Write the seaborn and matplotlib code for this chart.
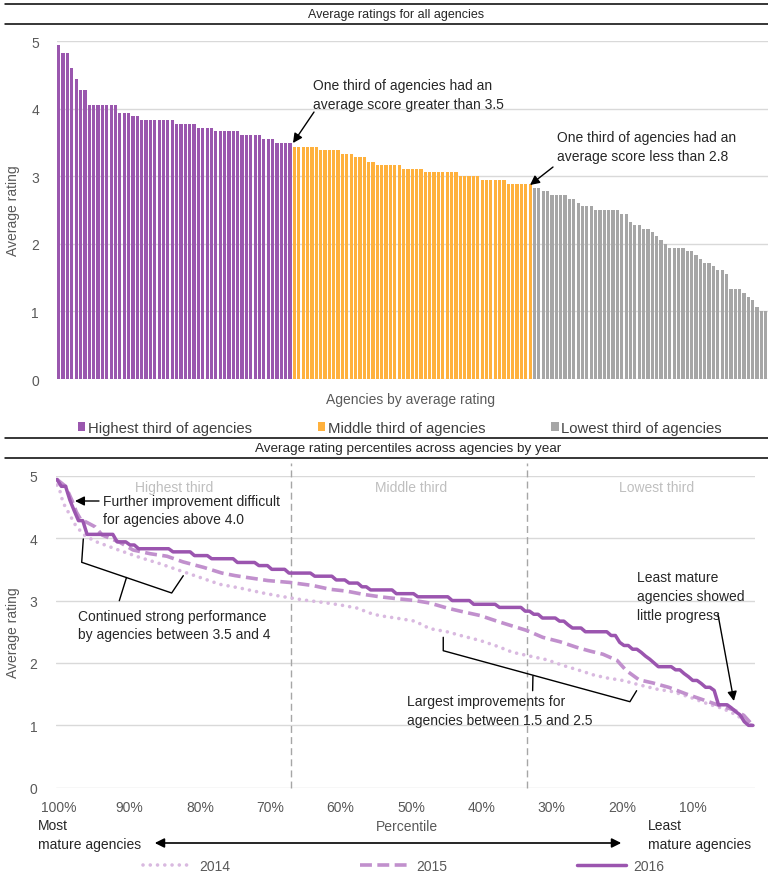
import numpy as np
import pandas as pd
import matplotlib
matplotlib.use("Agg")
import matplotlib.pyplot as plt
import seaborn as sns
from matplotlib.lines import Line2D
from matplotlib.patches import Patch

# ---------------- data ----------------
group_names = ["Highest third of agencies", "Middle third of agencies", "Lowest third of agencies"]

highest_third = [4.94, 4.83, 4.83, 4.61, 4.44, 4.28, 4.28,
                 4.06, 4.06, 4.06, 4.06, 4.06, 4.06, 4.06,
                 3.94, 3.94, 3.94, 3.89, 3.89,
                 3.83, 3.83, 3.83, 3.83, 3.83, 3.83, 3.83, 3.83,
                 3.78, 3.78, 3.78, 3.78, 3.78,
                 3.72, 3.72, 3.72, 3.72,
                 3.67, 3.67, 3.67, 3.67, 3.67, 3.67,
                 3.61, 3.61, 3.61, 3.61, 3.61,
                 3.56, 3.56, 3.56,
                 3.50, 3.50, 3.50, 3.50]
middle_third = [3.44, 3.44, 3.44, 3.44, 3.44, 3.44,
                3.39, 3.39, 3.39, 3.39, 3.39,
                3.33, 3.33, 3.33,
                3.28, 3.28, 3.28,
                3.22, 3.22,
                3.17, 3.17, 3.17, 3.17, 3.17, 3.17,
                3.11, 3.11, 3.11, 3.11, 3.11,
                3.06, 3.06, 3.06, 3.06, 3.06, 3.06, 3.06, 3.06,
                3.00, 3.00, 3.00, 3.00, 3.00,
                2.94, 2.94, 2.94, 2.94, 2.94, 2.94,
                2.89, 2.89, 2.89, 2.89, 2.89, 2.89]
lowest_third = [2.83, 2.83, 2.78, 2.78, 2.72, 2.72, 2.72, 2.72,
                2.67, 2.67, 2.61, 2.56, 2.56, 2.56,
                2.50, 2.50, 2.50, 2.50, 2.50, 2.50,
                2.44, 2.44, 2.33, 2.28, 2.28, 2.22, 2.22,
                2.17, 2.11, 2.06, 2.00,
                1.94, 1.94, 1.94, 1.94, 1.89, 1.89, 1.83, 1.78,
                1.72, 1.72, 1.67, 1.61, 1.61, 1.56,
                1.33, 1.33, 1.33, 1.28, 1.22, 1.17, 1.06, 1.00, 1.00]

# 2016 percentile line uses the same ranked ratings as the bars
rank_2015 = [0, 2.0, 3.5, 4.5, 5.5, 7.0, 8.9, 10.5, 14.7, 17.7, 21.7, 25.6, 29.3, 34.2,
             38.4, 41.4, 44.2, 49.1, 54.2, 59.6, 63.6, 67.5, 71.2, 75.2, 79.1, 83.3,
             86.8, 90.8, 94.5, 98.5, 102.4, 106.1, 109.4, 113.1, 117.1, 121.0, 124.1,
             127.1, 130.4, 132.5, 135.5, 138.7, 142.4, 146.6, 150.4, 154.6, 157.5,
             159.9, 162.0]
rating_2015 = [4.94, 4.83, 4.60, 4.42, 4.30, 4.25, 4.18, 4.05, 3.93, 3.81, 3.75, 3.71,
               3.62, 3.53, 3.44, 3.40, 3.37, 3.32, 3.29, 3.24, 3.18, 3.15, 3.10, 3.06,
               3.03, 3.00, 2.96, 2.88, 2.82, 2.76, 2.67, 2.59, 2.52, 2.41, 2.34, 2.25,
               2.19, 2.14, 2.04, 1.88, 1.73, 1.68, 1.61, 1.50, 1.41, 1.31, 1.25, 1.16,
               1.00]
rank_2014 = [0, 0.7, 1.4, 2.6, 4.2, 6.1, 8.8, 14.7, 19.3, 24.0, 28.6, 33.3, 37.9, 42.6,
             48.0, 51.9, 57.3, 61.9, 65.9, 69.8, 73.6, 75.9, 79.8, 83.3, 86.8, 90.8,
             94.5, 98.5, 102.4, 106.1, 110.1, 114.1, 117.8, 121.7, 124.8, 128.0, 131.7,
             135.5, 139.7, 143.4, 147.4, 151.3, 155.0, 158.4, 160.8, 162.0]
rating_2014 = [4.85, 4.75, 4.57, 4.42, 4.22, 4.06, 3.95, 3.80, 3.69, 3.59, 3.48, 3.37,
               3.26, 3.20, 3.12, 3.07, 3.01, 2.97, 2.93, 2.88, 2.78, 2.75, 2.71, 2.67,
               2.55, 2.50, 2.43, 2.36, 2.27, 2.17, 2.11, 2.05, 1.96, 1.88, 1.81, 1.76,
               1.72, 1.65, 1.58, 1.54, 1.45, 1.35, 1.27, 1.16, 1.02, 1.00]

percentile_labels = ["100%", "90%", "80%", "70%", "60%", "50%", "40%", "30%", "20%", "10%"]
third_labels = ["Highest third", "Middle third", "Lowest third"]
year_labels = ["2014", "2015", "2016"]

# ---------------- style ----------------
sns.set_theme(style="white")
plt.rcParams["font.family"] = ["Liberation Sans", "DejaVu Sans"]

PURPLE = "#9A57AE"
ORANGE = "#FFB13D"
GREY = "#A6A6A6"
C2016 = "#9B55AF"
C2015 = "#C190CD"
C2014 = "#D9B9E0"
TXT = "#595959"
GRID = "#D9D9D9"

W, H = 768, 879
fig = plt.figure(figsize=(W / 100, H / 100), dpi=100)
fig.patch.set_facecolor("white")


def fx(px):
    return px / W


def fy(py):
    return 1 - py / H


# ---------------- top chart ----------------
ratings = highest_third + middle_third + lowest_third
groups = ([group_names[0]] * len(highest_third) + [group_names[1]] * len(middle_third)
          + [group_names[2]] * len(lowest_third))
n = len(ratings)
df = pd.DataFrame({"rank": np.arange(n), "rating": ratings, "group": groups})

ax1 = fig.add_axes([fx(57), fy(380), (768 - 57) / W, (380 - 42.3) / H])
sns.barplot(data=df, x="rank", y="rating", hue="group", hue_order=group_names,
            palette=[PURPLE, ORANGE, GREY], dodge=False, width=0.74, saturation=1,
            legend=False, ax=ax1, linewidth=0, edgecolor="none")
ax1.set_xlim(-0.4, n - 0.5)
ax1.set_ylim(0, 5)
ax1.set_yticks([0, 1, 2, 3, 4, 5])
ax1.set_xticks([])
ax1.set_xlabel("")
ax1.yaxis.grid(True, color=GRID, linewidth=1)
ax1.set_axisbelow(True)
for s in ax1.spines.values():
    s.set_visible(False)
ax1.tick_params(axis="y", length=0, pad=13, labelsize=10, labelcolor=TXT)
ax1.set_ylabel("Average rating", fontsize=10, color=TXT)
ax1.yaxis.set_label_coords((20 - 57) / 711, 0.5)


def t1(px, py):
    # pixel -> data coords of top axes
    return (-0.4 + (px - 57) / ((768 - 57) / (n + 0.1 - 0.2)), (380 - py) / 67.55)


ax1.text(*t1(313, 95), "One third of agencies had an\naverage score greater than 3.5",
         fontsize=10, ha="left", va="center", linespacing=1.45)
ax1.annotate("", xy=t1(293, 144), xytext=t1(314, 113),
             arrowprops=dict(arrowstyle="-|>", color="black", lw=1, mutation_scale=14,
                             shrinkA=0, shrinkB=0))
ax1.text(*t1(557, 147), "One third of agencies had an\naverage score less than 2.8",
         fontsize=10, ha="left", va="center", linespacing=1.45)
ax1.annotate("", xy=t1(530, 186), xytext=t1(553, 168),
             arrowprops=dict(arrowstyle="-|>", color="black", lw=1, mutation_scale=14,
                             shrinkA=0, shrinkB=0))

fig.text(fx(410), fy(400), "Agencies by average rating", fontsize=10, color=TXT,
         ha="center", va="center")
handles = [Patch(facecolor=c, edgecolor="none") for c in (PURPLE, ORANGE, GREY)]
fig.legend(handles, group_names, loc="center left", bbox_to_anchor=(fx(78), fy(429)),
           ncol=3, frameon=False, fontsize=10.7, handlelength=0.5, handleheight=0.5,
           handletextpad=0.2, columnspacing=4.4, borderaxespad=0, borderpad=0,
           labelcolor="#404040")

# ---------------- title bands ----------------
for py in (5, 25, 439, 459):
    fig.add_artist(Line2D([fx(5), 1], [fy(py), fy(py)], color="black", lw=1.1))
fig.text(fx(396), fy(15), "Average ratings for all agencies", fontsize=9, ha="center", va="center")
fig.text(fx(408), fy(449), "Average rating percentiles across agencies by year", fontsize=9.7,
         ha="center", va="center")

# ---------------- bottom chart ----------------
ax2 = fig.add_axes([fx(55.5), fy(788.8), (755 - 55.5) / W, (788.8 - 476.7) / H])
sns.lineplot(x=rank_2014, y=rating_2014, ax=ax2, color=C2014, lw=2.6,
             linestyle=(0, (0.01, 2.0)), dash_capstyle="round", sort=False)
sns.lineplot(x=rank_2015, y=rating_2015, ax=ax2, color=C2015, lw=2.6,
             linestyle=(0, (3.3, 1.5)), dash_capstyle="butt", sort=False)
sns.lineplot(x=np.arange(n), y=ratings, ax=ax2, color=C2016, lw=2.5,
             solid_joinstyle="round", sort=False)
ax2.set_xlim(-0.35, n - 0.5)
ax2.set_ylim(0, 5)
ax2.set_yticks([0, 1, 2, 3, 4, 5])
pct_vals = [100, 90, 80, 70, 60, 50, 40, 30, 20, 10]
ax2.set_xticks([0.47 + (100 - p) * 1.639 for p in pct_vals])
ax2.set_xticklabels(percentile_labels)
ax2.yaxis.grid(True, color=GRID, linewidth=1)
ax2.set_axisbelow(True)
for s in ax2.spines.values():
    s.set_visible(False)
ax2.tick_params(axis="y", length=0, pad=13, labelsize=10, labelcolor=TXT)
ax2.tick_params(axis="x", length=0, pad=9, labelsize=10, labelcolor=TXT)
ax2.set_ylabel("Average rating", fontsize=10, color=TXT)
ax2.yaxis.set_label_coords((20 - 55.5) / 699.5, 0.5)
ax2.set_xlabel("")

for xd in (54.5, 109.5):
    ax2.plot([xd, xd], [0, 5.2], color="#A6A6A6", lw=1, ls=(0, (5, 3)), clip_on=False, zorder=1)


def t2(px, py):
    return ((px - 57) / 4.296, (788.8 - py) / 62.42)


for lab, px in zip(third_labels, (174, 411, 657)):
    ax2.text(*t2(px, 488), lab, fontsize=10, color="#BFBFBF", ha="center", va="center")

ax2.text(*t2(103, 511), "Further improvement difficult\nfor agencies above 4.0", fontsize=10,
         ha="left", va="center", linespacing=1.45)
ax2.annotate("", xy=t2(75, 502), xytext=t2(99, 502),
             arrowprops=dict(arrowstyle="-|>", color="black", lw=1, mutation_scale=14,
                             shrinkA=0, shrinkB=0))
ax2.text(*t2(78, 626), "Continued strong performance\nby agencies between 3.5 and 4",
         fontsize=10, ha="left", va="center", linespacing=1.45)
br1 = [t2(83.3, 540), t2(81.7, 563.3), t2(171.7, 594), t2(183.3, 576.7)]
ax2.plot([p[0] for p in br1], [p[1] for p in br1], color="black", lw=1)
tk1 = [t2(126.5, 578.5), t2(119.3, 601.7)]
ax2.plot([p[0] for p in tk1], [p[1] for p in tk1], color="black", lw=1)

ax2.text(*t2(407, 711.5), "Largest improvements for\nagencies between 1.5 and 2.5",
         fontsize=10, ha="left", va="center", linespacing=1.45)
br2 = [t2(443.3, 638.3), t2(443.3, 651.7), t2(630, 702.7), t2(636.7, 691.7)]
ax2.plot([p[0] for p in br2], [p[1] for p in br2], color="black", lw=1)
tk2 = [t2(533, 677), t2(532.7, 691.7)]
ax2.plot([p[0] for p in tk2], [p[1] for p in tk2], color="black", lw=1)

ax2.text(*t2(637, 597), "Least mature\nagencies showed\nlittle progress", fontsize=10,
         ha="left", va="center", linespacing=1.45)
ax2.annotate("", xy=t2(734, 702), xytext=t2(718, 615),
             arrowprops=dict(arrowstyle="-|>", color="black", lw=1, mutation_scale=14,
                             shrinkA=0, shrinkB=0))

# axis captions under the bottom chart
fig.text(fx(407), fy(827), "Percentile", fontsize=10, color=TXT, ha="center", va="center")
fig.text(fx(38), fy(835.5), "Most\nmature agencies", fontsize=10, ha="left", va="center",
         linespacing=1.45)
fig.text(fx(648), fy(835.5), "Least\nmature agencies", fontsize=10, ha="left", va="center",
         linespacing=1.45)
fig.add_artist(matplotlib.patches.FancyArrowPatch((fx(152), fy(844)), (fx(624), fy(844)),
                                                  transform=fig.transFigure,
                                                  arrowstyle="<|-|>", mutation_scale=14,
                                                  color="black", lw=1.2))

year_handles = [Line2D([], [], color=C2014, lw=2.6, linestyle=(0, (0.01, 2.0)),
                       dash_capstyle="round"),
                Line2D([], [], color=C2015, lw=2.6, linestyle=(0, (3.3, 1.5))),
                Line2D([], [], color=C2016, lw=2.5)]
fig.legend(year_handles, year_labels, loc="center left", bbox_to_anchor=(fx(143), fy(867)),
           ncol=3, frameon=False, fontsize=10, handlelength=3.5, handletextpad=0.55,
           columnspacing=9.35, borderaxespad=0, borderpad=0, labelcolor=TXT)

fig.savefig("out.png", dpi=100, facecolor="white")
